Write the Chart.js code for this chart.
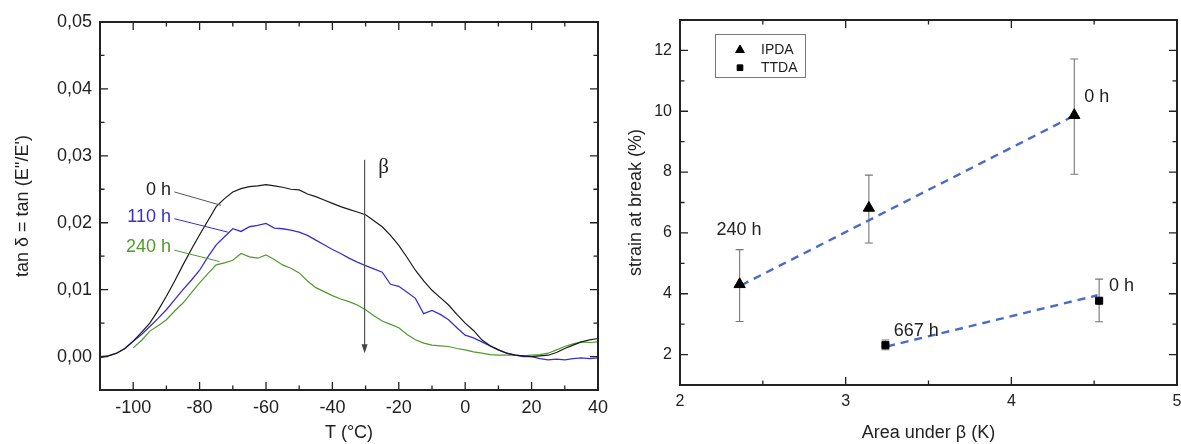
<!DOCTYPE html>
<html>
<head>
<meta charset="utf-8">
<script src="https://cdn.jsdelivr.net/npm/chart.js@4.4.0/dist/chart.umd.min.js"></script>
<style>
  html, body { margin: 0; padding: 0; background: #fff; overflow: hidden; }
  #wrap { position: relative; width: 1181px; height: 444px; overflow: hidden; }
  #tanChart { position: absolute; left: 0; top: 0; }
  #strainChart { position: absolute; left: 600px; top: 0; }
</style>
</head>
<body>
<div id="wrap">
  <canvas id="tanChart" width="615" height="444"></canvas>
  <canvas id="strainChart" width="610" height="444"></canvas>
</div>
<script>
const FONT = "'Liberation Sans', Arial, Helvetica, sans-serif";
const INK = '#222';

// left panel: tan delta vs temperature
const temps = [-110, -107.5, -105, -102.5, -100, -97.5, -95, -92.5, -90, -87.5, -85, -82.5, -80, -77.5, -75, -72.5,
  -70, -67.5, -65, -62.5, -60, -57.5, -55, -52.5, -50, -47.5, -45, -42.5, -40, -37.5, -35, -32.5,
  -30, -27.5, -25, -22.5, -20, -17.5, -15, -12.5, -10, -7.5, -5, -2.5, 0, 2.5, 5, 7.5,
  10, 12.5, 15, 17.5, 20, 22.5, 25, 27.5, 30, 32.5, 35, 37.5, 40];
const tan0h = [0.0000, 0.0001, 0.0005, 0.0012, 0.0023, 0.0036, 0.0050, 0.0069, 0.0090, 0.0113, 0.0137, 0.0160, 0.0182, 0.0203, 0.0224, 0.0236,
  0.0246, 0.0251, 0.0254, 0.0255, 0.0257, 0.0255, 0.0253, 0.0250, 0.0249, 0.0243, 0.0239, 0.0234, 0.0229, 0.0224, 0.0220, 0.0216,
  0.0212, 0.0203, 0.0194, 0.0181, 0.0166, 0.0148, 0.0129, 0.0113, 0.0099, 0.0088, 0.0077, 0.0063, 0.0050, 0.0039, 0.0025, 0.0016,
  0.0010, 0.0005, 0.0002, 0.0001, 0.0000, 0.0001, 0.0002, 0.0006, 0.0012, 0.0017, 0.0022, 0.0025, 0.0027];
const tan110h = [-0.0002, 0.0001, 0.0005, 0.0012, 0.0023, 0.0033, 0.0045, 0.0057, 0.0070, 0.0085, 0.0100, 0.0114, 0.0129, 0.0149, 0.0167, 0.0179,
  0.0191, 0.0187, 0.0194, 0.0196, 0.0199, 0.0192, 0.0191, 0.0189, 0.0186, 0.0181, 0.0174, 0.0167, 0.0160, 0.0154, 0.0147, 0.0141,
  0.0136, 0.0131, 0.0126, 0.0108, 0.0105, 0.0096, 0.0087, 0.0064, 0.0069, 0.0063, 0.0055, 0.0043, 0.0032, 0.0028, 0.0022, 0.0016,
  0.0010, 0.0005, 0.0002, 0.0000, 0.0000, -0.0003, -0.0005, -0.0004, -0.0005, -0.0003, -0.0002, -0.0003, -0.0002];
const tan240h = [null, null, null, null, 0.0013, 0.0024, 0.0038, 0.0046, 0.0055, 0.0068, 0.0080, 0.0095, 0.0110, 0.0124, 0.0137, 0.0140,
  0.0144, 0.0154, 0.0149, 0.0147, 0.0152, 0.0145, 0.0137, 0.0132, 0.0125, 0.0113, 0.0103, 0.0097, 0.0091, 0.0086, 0.0082, 0.0077,
  0.0070, 0.0061, 0.0053, 0.0048, 0.0043, 0.0033, 0.0025, 0.0020, 0.0017, 0.0016, 0.0015, 0.0012, 0.0010, 0.0007, 0.0005, 0.0003,
  0.0002, 0.0002, 0.0002, 0.0001, 0.0002, 0.0003, 0.0005, 0.0010, 0.0015, 0.0019, 0.0022, 0.0021, 0.0022];
const tXTicks = [-100, -80, -60, -40, -20, 0, 20, 40];
const tXMinor = [-90, -70, -50, -30, -10, 10, 30];
const tYTicks = [0, 0.01, 0.02, 0.03, 0.04, 0.05];
const tYMinor = [0.005, 0.015, 0.025, 0.035, 0.045];

// right panel: strain at break vs area under beta
const ipdaArea = [2.36, 3.14, 4.38];
const ipdaStrain = [4.31, 6.82, 9.87];
const ipdaLow = [3.09, 5.67, 7.93];
const ipdaHigh = [5.45, 7.90, 11.72];
const ttdaArea = [3.24, 4.53];
const ttdaStrain = [2.31, 3.77];
const ttdaLow = [2.16, 3.08];
const ttdaHigh = [2.48, 4.48];
const ipdaFitArea = [2.37, 4.36];
const ipdaFitStrain = [4.28, 9.80];
const ttdaFitArea = [3.25, 4.52];
const ttdaFitStrain = [2.27, 3.95];
const aXTicks = [2, 3, 4, 5];
const aXMinor = [2.5, 3.5, 4.5];
const aYTicks = [2, 4, 6, 8, 10, 12];
const aYMinor = [3, 5, 7, 9, 11];

const BLUE = '#3a2ecc';
const GREEN = '#4f9a2c';
const FIT = '#4a6bc6';

function pts(xs, ys) {
  return xs.map((x, i) => ({ x: x, y: ys[i] }));
}

// box round the plot with inward ticks on all four sides
function drawFrame(chart, xMajor, xMinor, yMajor, yMinor) {
  const { ctx, chartArea: a, scales: { x, y } } = chart;
  ctx.save();
  ctx.strokeStyle = INK;
  ctx.lineWidth = 1.3;
  ctx.beginPath();
  const xt = (vals, len) => vals.forEach(v => {
    const px = x.getPixelForValue(v);
    ctx.moveTo(px, a.bottom); ctx.lineTo(px, a.bottom - len);
    ctx.moveTo(px, a.top); ctx.lineTo(px, a.top + len);
  });
  const yt = (vals, len) => vals.forEach(v => {
    const py = y.getPixelForValue(v);
    ctx.moveTo(a.left, py); ctx.lineTo(a.left + len, py);
    ctx.moveTo(a.right, py); ctx.lineTo(a.right - len, py);
  });
  xt(xMajor, 8); xt(xMinor, 4.5);
  yt(yMajor, 8); yt(yMinor, 4.5);
  ctx.stroke();
  ctx.lineWidth = 2;
  ctx.strokeRect(a.left, a.top, a.right - a.left, a.bottom - a.top);
  ctx.restore();
}

function axisOpts(min, max, ticks, size, pad, fmt, title, titlePad) {
  return {
    type: 'linear', min: min, max: max,
    afterBuildTicks: s => { s.ticks = ticks.map(v => ({ value: v })); },
    grid: { display: false, drawTicks: false },
    border: { display: false },
    ticks: { padding: pad, color: INK, font: { family: FONT, size: size }, callback: fmt },
    title: { display: true, text: title, color: INK, font: { family: FONT, size: 18 }, padding: titlePad }
  };
}

// ---------- left chart ----------
const tanNotes = [
  { text: '0 h', color: INK, line: '#555', t: -88.6, v: 0.0249, from: [-87.6, 0.0246], to: [-73.5, 0.0226] },
  { text: '110 h', color: BLUE, line: BLUE, t: -88.6, v: 0.0209, from: [-87.6, 0.0206], to: [-71.5, 0.0186] },
  { text: '240 h', color: GREEN, line: GREEN, t: -88.6, v: 0.0163, from: [-87.6, 0.0159], to: [-74, 0.0142] }
];

const tanDeco = {
  id: 'tanDeco',
  afterDraw(chart) {
    const { ctx, scales: { x, y } } = chart;
    drawFrame(chart, tXTicks, tXMinor, tYTicks, tYMinor);
    ctx.save();
    ctx.font = '18px ' + FONT;
    ctx.textAlign = 'right';
    ctx.textBaseline = 'middle';
    tanNotes.forEach(n => {
      ctx.fillStyle = n.color;
      ctx.fillText(n.text, x.getPixelForValue(n.t), y.getPixelForValue(n.v));
      ctx.strokeStyle = n.line;
      ctx.lineWidth = 1;
      ctx.beginPath();
      ctx.moveTo(x.getPixelForValue(n.from[0]), y.getPixelForValue(n.from[1]));
      ctx.lineTo(x.getPixelForValue(n.to[0]), y.getPixelForValue(n.to[1]));
      ctx.stroke();
    });
    // beta arrow
    const ax = x.getPixelForValue(-30.3);
    const y0 = y.getPixelForValue(0.0294);
    const y1 = y.getPixelForValue(0.0005);
    ctx.strokeStyle = '#555';
    ctx.fillStyle = '#444';
    ctx.lineWidth = 1.2;
    ctx.beginPath();
    ctx.moveTo(ax, y0); ctx.lineTo(ax, y1 - 6);
    ctx.stroke();
    ctx.beginPath();
    ctx.moveTo(ax, y1); ctx.lineTo(ax - 3, y1 - 9); ctx.lineTo(ax + 3, y1 - 9); ctx.closePath();
    ctx.fill();
    ctx.fillStyle = INK;
    ctx.font = "21px 'Liberation Serif', 'Times New Roman', serif";
    ctx.textAlign = 'left';
    ctx.fillText('β', x.getPixelForValue(-26.2), y.getPixelForValue(0.0283));
    ctx.restore();
  }
};

const tanFmt = v => v.toFixed(2).replace('.', ',');

new Chart(document.getElementById('tanChart'), {
  type: 'line',
  data: {
    datasets: [
      { data: pts(temps, tan0h), borderColor: '#1a1a1a', borderWidth: 1.2 },
      { data: pts(temps, tan110h), borderColor: BLUE, borderWidth: 1.3 },
      { data: pts(temps, tan240h), borderColor: GREEN, borderWidth: 1.2 }
    ]
  },
  options: {
    responsive: false,
    animation: false,
    layout: { padding: { top: 22, right: 15, left: 0, bottom: 0 } },
    elements: { point: { radius: 0 }, line: { tension: 0 } },
    plugins: { legend: { display: false }, tooltip: { enabled: false } },
    scales: {
      x: Object.assign(axisOpts(-110, 40, tXTicks, 18, 7, v => String(v), 'T (°C)', { top: 0, bottom: 0 }),
        { afterFit: s => { s.height = 54; } }),
      y: Object.assign(axisOpts(-0.005, 0.05, tYTicks, 18, 8, tanFmt, "tan δ = tan (E''/E')", { top: 12, bottom: 0 }),
        { afterFit: s => { s.width = 100; } })
    }
  },
  plugins: [tanDeco]
});

// ---------- right chart ----------
const strainNotes = [
  { text: '0 h', x: 4.44, y: 10.47 },
  { text: '240 h', x: 2.22, y: 6.10 },
  { text: '0 h', x: 4.59, y: 4.25 },
  { text: '667 h', x: 3.29, y: 2.78 }
];

function errBars(ctx, x, y, xs, lo, hi) {
  xs.forEach((v, i) => {
    const px = x.getPixelForValue(v);
    const a = y.getPixelForValue(lo[i]);
    const b = y.getPixelForValue(hi[i]);
    ctx.beginPath();
    ctx.moveTo(px, a); ctx.lineTo(px, b);
    ctx.moveTo(px - 4, a); ctx.lineTo(px + 4, a);
    ctx.moveTo(px - 4, b); ctx.lineTo(px + 4, b);
    ctx.stroke();
  });
}

const strainDeco = {
  id: 'strainDeco',
  beforeDatasetsDraw(chart) {
    const { ctx, scales: { x, y } } = chart;
    ctx.save();
    ctx.strokeStyle = '#777';
    ctx.lineWidth = 1.1;
    errBars(ctx, x, y, ipdaArea, ipdaLow, ipdaHigh);
    errBars(ctx, x, y, ttdaArea, ttdaLow, ttdaHigh);
    ctx.restore();
  },
  afterDraw(chart) {
    const { ctx, chartArea: a, scales: { x, y } } = chart;
    drawFrame(chart, aXTicks, aXMinor, aYTicks, aYMinor);
    ctx.save();
    ctx.fillStyle = INK;
    ctx.font = '18px ' + FONT;
    ctx.textAlign = 'left';
    ctx.textBaseline = 'middle';
    strainNotes.forEach(n => ctx.fillText(n.text, x.getPixelForValue(n.x), y.getPixelForValue(n.y)));
    // legend
    const lx = a.left + 35, ly = a.top + 14;
    ctx.strokeStyle = '#777';
    ctx.lineWidth = 1;
    ctx.strokeRect(lx + 0.5, ly + 0.5, 90, 43);
    const ds = chart.data.datasets;
    [0, 1].forEach(i => {
      const cy = ly + 16 + i * 17.7;
      ctx.fillStyle = '#000';
      ctx.strokeStyle = '#000';
      Chart.helpers.drawPoint(ctx, { pointStyle: ds[i].pointStyle, radius: i === 0 ? 5 : 4, borderWidth: 1 }, lx + 25, cy);
      ctx.fillStyle = INK;
      ctx.font = '14px ' + FONT;
      ctx.fillText(ds[i].label, lx + 46, cy);
    });
    ctx.restore();
  }
};

new Chart(document.getElementById('strainChart'), {
  type: 'scatter',
  data: {
    datasets: [
      { label: 'IPDA', data: pts(ipdaArea, ipdaStrain), pointStyle: 'triangle', pointRadius: 6.5,
        backgroundColor: '#000', borderColor: '#000', borderWidth: 1 },
      { label: 'TTDA', data: pts(ttdaArea, ttdaStrain), pointStyle: 'rect', pointRadius: 5,
        backgroundColor: '#000', borderColor: '#000', borderWidth: 1 },
      { label: 'IPDA fit', data: pts(ipdaFitArea, ipdaFitStrain), showLine: true, pointRadius: 0,
        borderColor: FIT, borderWidth: 2.4, borderDash: [8, 6] },
      { label: 'TTDA fit', data: pts(ttdaFitArea, ttdaFitStrain), showLine: true, pointRadius: 0,
        borderColor: FIT, borderWidth: 2.4, borderDash: [8, 6] }
    ]
  },
  options: {
    responsive: false,
    animation: false,
    layout: { padding: { top: 20, right: 33, left: 0, bottom: 0 } },
    plugins: { legend: { display: false }, tooltip: { enabled: false } },
    scales: {
      x: Object.assign(axisOpts(2, 5, aXTicks, 16, 7, v => String(v), 'Area under β (K)', { top: 0, bottom: 0 }),
        { afterFit: s => { s.height = 59; } }),
      y: Object.assign(axisOpts(1, 13, aYTicks, 16, 8, v => String(v), 'strain at break (%)', { top: 25, bottom: 0 }),
        { afterFit: s => { s.width = 80; } })
    }
  },
  plugins: [strainDeco]
});
</script>
</body>
</html>
